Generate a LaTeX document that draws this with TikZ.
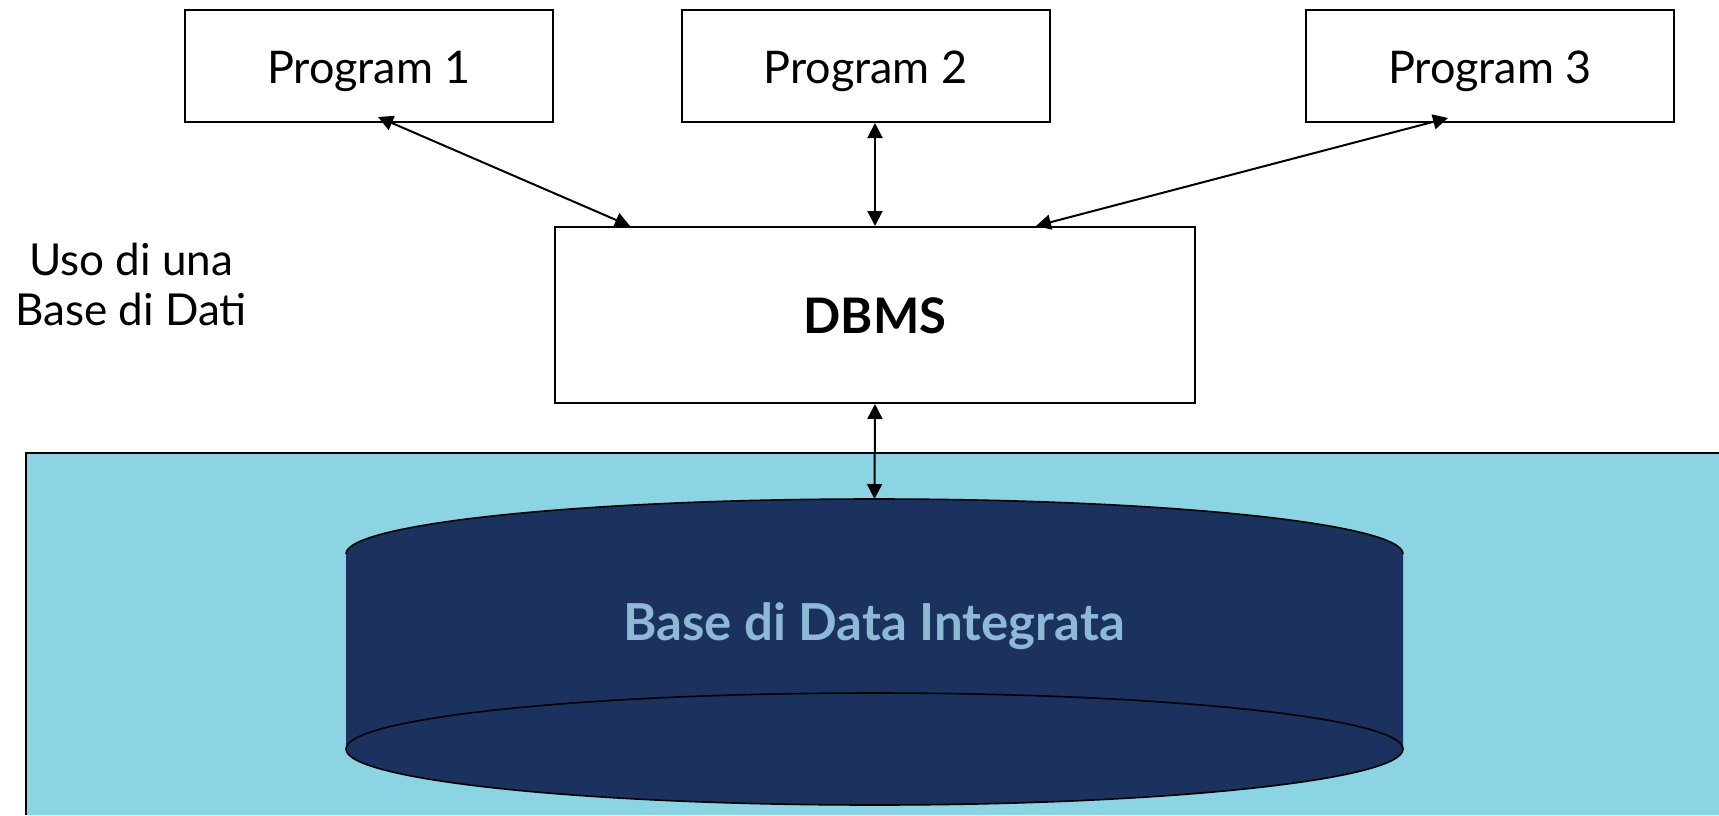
\documentclass[tikz,border=0pt]{standalone}
\usepackage{fontspec}
\setmainfont{Lato}
\usetikzlibrary{arrows.meta}

\definecolor{dbarea}{RGB}{139,212,227}
\definecolor{dbnavy}{RGB}{27,50,94}
\definecolor{dbtext}{RGB}{141,185,214}

\begin{document}
\begin{tikzpicture}[x=0.5pt,y=-0.5pt,
    prog/.style={draw,line width=1pt,minimum width=184pt,minimum height=56pt,
        text height=17pt,text depth=0pt,font=\fontsize{22.5}{26}\selectfont},
    link/.style={line width=1pt,
        {Triangle[width=7.5pt,length=7.5pt]}-{Triangle[width=7.5pt,length=7.5pt]}}]
    \useasboundingbox (0,0) rectangle (1719,815);

    % area of the data base
    \fill[dbarea] (26,453) rectangle (1719,815);
    \draw[line width=0.8pt] (26,815) -- (26,453) -- (1719,453);

    % cylinder
    \fill[dbnavy] (346,554) arc[start angle=180,end angle=0,x radius=264.25pt,y radius=27.5pt]
        -- (1403,749) arc[start angle=0,end angle=-180,x radius=264.25pt,y radius=28pt] -- cycle;
    \draw[line width=0.8pt] (346,554) arc[start angle=180,end angle=0,x radius=264.25pt,y radius=27.5pt];
    \draw[line width=0.8pt] (874.5,749) ellipse[x radius=264.25pt,y radius=28pt];
    \coordinate (dbtop) at (874.5,499);

    \node[prog] (p1) at (369,66) {Program 1};
    \node[prog] (p2) at (865.5,66) {Program 2};
    \node[prog] (p3) at (1490,66) {Program 3};

    \node[draw,line width=1pt,fill=white,minimum width=320pt,minimum height=88pt,
        text height=18pt,text depth=0pt,
        font=\fontsize{24.5}{28}\selectfont\bfseries] (dbms) at (875,315) {DBMS};

    \node[align=center,font=\fontsize{22}{25}\selectfont] (uso) at (131,284) {Uso di una\\Base di Dati};

    \node[anchor=base,text=dbtext,font=\fontsize{25.5}{29}\selectfont\bfseries] (db) at (874,640)
        {Base di Data Integrata};

    \draw[link] ([xshift=4.5pt,yshift=3pt]p1.south) -- ([xshift=-122.5pt]dbms.north);
    \draw[link] ([xshift=4.75pt]p2.south) -- (dbms.north);
    \draw[link] ([xshift=-21pt,yshift=2.5pt]p3.south) -- ([xshift=80.5pt]dbms.north);
    \draw[link] (dbms.south) -- (dbtop);
\end{tikzpicture}
\end{document}
